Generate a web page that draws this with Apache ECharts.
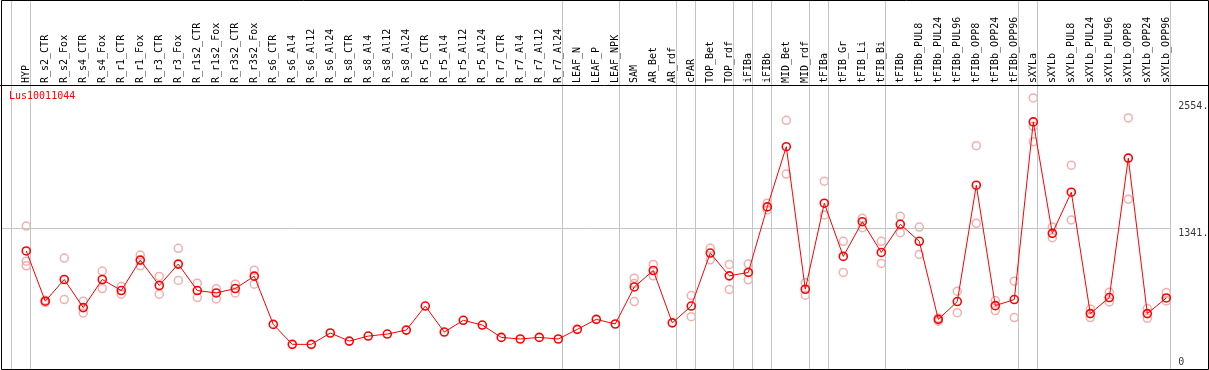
<!DOCTYPE html>
<html>
<head>
<meta charset="utf-8">
<script src="https://cdn.jsdelivr.net/npm/echarts@6/dist/echarts.min.js"></script>
<style>html,body{margin:0;padding:0;background:#fff}#c{width:1209px;height:370px}</style>
</head>
<body>
<div id="c"></div>
<script>
var categories = ['HYP','R_s2_CTR','R_s2_Fox','R_s4_CTR','R_s4_Fox','R_r1_CTR','R_r1_Fox','R_r3_CTR','R_r3_Fox','R_r1s2_CTR','R_r1s2_Fox','R_r3s2_CTR','R_r3s2_Fox','R_s6_CTR','R_s6_Al4','R_s6_Al12','R_s6_Al24','R_s8_CTR','R_s8_Al4','R_s8_Al12','R_s8_Al24','R_r5_CTR','R_r5_Al4','R_r5_Al12','R_r5_Al24','R_r7_CTR','R_r7_Al4','R_r7_Al12','R_r7_Al24','LEAF_N','LEAF_P','LEAF_NPK','SAM','AR_Bet','AR_rdf','cPAR','TOP_Bet','TOP_rdf','iFIBa','iFIBb','MID_Bet','MID_rdf','tFIBa','tFIB_Gr','tFIB_Li','tFIB_Bi','tFIBb','tFIBb_PUL8','tFIBb_PUL24','tFIBb_PUL96','tFIBb_OPP8','tFIBb_OPP24','tFIBb_OPP96','sXYLa','sXYLb','sXYLb_PUL8','sXYLb_PUL24','sXYLb_PUL96','sXYLb_OPP8','sXYLb_OPP24','sXYLb_OPP96'];

var meanValues = [1125,646,853,585,853,748,1038,796,1000,748,725,767,885,425,235,235,343,266,314,333,371,600,352,464,419,301,286,301,286,378,473,429,782,939,440,600,1105,888,920,1545,2119,760,1580,1073,1404,1111,1379,1217,473,643,1752,604,662,2355,1293,1685,528,681,2010,528,677];

var rep1 = [1362,655,1057,646,933,786,1086,882,1150,818,764,808,942,null,null,null,null,null,null,null,null,null,null,null,null,null,null,null,null,null,null,null,866,997,null,700,1150,997,1000,1580,2370,821,1790,1217,1437,1217,1456,1353,485,741,2128,652,837,2584,1353,1943,572,732,2393,576,729];
var rep2 = [1028,635,662,534,767,713,983,713,844,681,668,725,808,null,null,null,null,null,null,null,null,null,null,null,null,null,null,null,null,null,null,null,643,888,null,499,1041,758,850,1516,1858,703,1468,920,1347,1006,1299,1092,455,537,1389,557,490,2313,1251,1420,490,639,1618,483,649];
var rep3 = [983,null,null,null,null,null,null,null,null,null,null,null,null,null,null,null,null,null,null,null,null,null,null,null,null,null,null,null,null,null,null,null,815,null,null,null,null,null,null,null,null,null,null,null,null,null,null,null,null,null,null,null,null,2166,null,null,null,null,null,null,null];

// last category index of each group (separator drawn just after it)
var groupEnds = [-1,0,28,31,34,35,37,38,39,41,42,45,52,53,60];

var yTickValues = [2554,1341,0];
var yTickLabels = ['2554.','1341.','0'];
var gridLineValues = [1341];
var geneName = 'Lus10011044';

var mono = 'DejaVu Sans Mono';
var sepOffset = 0.21;
var xMin = -1.33, xMax = 60 + sepOffset;

function pairs(arr){
  var out = [];
  arr.forEach(function(v,i){ if (v !== null) out.push([i,v]); });
  return out;
}
var repData = pairs(rep1).concat(pairs(rep2)).concat(pairs(rep3));

var chart = echarts.init(document.getElementById('c'), null, {renderer:'canvas'});
chart.setOption({
  animation:false,
  backgroundColor:'#fff',
  title:{text:geneName,left:9,top:91,padding:0,textStyle:{color:'#ff0000',fontSize:10,fontWeight:'normal',fontFamily:mono}},
  grid:[
    {left:1,right:38.7,top:0,bottom:1,containLabel:false},
    {left:16.8,width:1159,top:85,height:100,containLabel:false}
  ],
  xAxis:[
    {gridIndex:0,type:'value',min:xMin,max:xMax,show:false},
    {gridIndex:1,type:'category',position:'top',data:categories,boundaryGap:true,
     axisLine:{show:false},axisTick:{show:false},splitLine:{show:false},
     axisLabel:{interval:0,rotate:90,margin:2,fontSize:10,fontFamily:mono,color:'#000'}}
  ],
  yAxis:[
    {gridIndex:0,type:'value',min:0,max:3517,show:false},
    {gridIndex:1,type:'value',show:false}
  ],
  graphic:[
    {type:'rect',shape:{x:1.5,y:0.5,width:1207,height:369},style:{fill:'none',stroke:'#000',lineWidth:1},z:100,silent:true},
    {type:'line',shape:{x1:0,y1:85.5,x2:1209,y2:85.5},style:{stroke:'#000',lineWidth:1},z:100,silent:true}
  ],
  series:[
    {type:'line',xAxisIndex:0,yAxisIndex:0,data:[],symbol:'none',silent:true,
     markLine:{silent:true,symbol:'none',animation:false,label:{show:false},
       lineStyle:{color:'#c4c4c4',width:1,type:'solid'},
       data:groupEnds.map(function(g){return {xAxis:g+sepOffset};})
         .concat(gridLineValues.map(function(v){return {yAxis:v};}))}},
    {type:'scatter',xAxisIndex:0,yAxisIndex:0,data:repData,symbol:'circle',symbolSize:8,
     itemStyle:{color:'rgba(0,0,0,0)',borderColor:'#f09a9a',borderWidth:1.5},z:3,silent:true},
    {type:'line',xAxisIndex:0,yAxisIndex:0,data:meanValues.map(function(v,i){return [i,v];}),
     symbol:'circle',symbolSize:8,showAllSymbol:true,
     lineStyle:{color:'#ff0000',width:1},
     itemStyle:{color:'rgba(0,0,0,0)',borderColor:'#ff0000',borderWidth:1.6},z:5,silent:true},
    {type:'scatter',xAxisIndex:0,yAxisIndex:0,clip:false,symbolSize:0,silent:true,
     data:yTickValues.map(function(v,i){
       return {value:[xMax,v],label:{formatter:yTickLabels[i],verticalAlign:(v===0?'bottom':'top'),offset:[0,(v===0?-2:0)]}};
     }),
     label:{show:true,position:'right',distance:8,fontSize:10,fontFamily:mono,color:'#000'}},
    {type:'line',xAxisIndex:1,yAxisIndex:1,data:[],symbol:'none'}
  ]
});
</script>
</body>
</html>
